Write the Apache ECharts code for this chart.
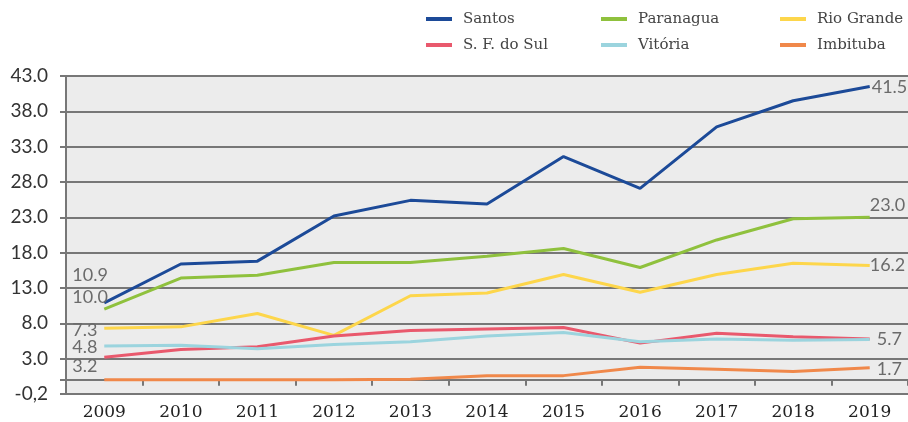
<!DOCTYPE html>
<html>
<head>
<meta charset="utf-8">
<script src="https://cdn.jsdelivr.net/npm/echarts@6/dist/echarts.min.js"></script>
<style>
    html, body { margin: 0; padding: 0; background: #fff; }
    #chart { width: 908px; height: 422px; }
</style>
</head>
<body>
<div id="chart"></div>
<script>
// anos (eixo x)
const years = ['2009', '2010', '2011', '2012', '2013', '2014', '2015', '2016', '2017', '2018', '2019'];
// valores por porto
const santos    = [10.9, 16.4, 16.8, 23.2, 25.4, 24.9, 31.6, 27.1, 35.8, 39.5, 41.5];
const paranagua = [10.0, 14.4, 14.8, 16.6, 16.6, 17.5, 18.6, 15.9, 19.8, 22.8, 23.0];
const rioGrande = [7.3, 7.5, 9.4, 6.3, 11.9, 12.3, 14.9, 12.4, 14.9, 16.5, 16.2];
const sfDoSul   = [3.2, 4.3, 4.7, 6.2, 7.0, 7.2, 7.4, 5.2, 6.6, 6.1, 5.8];
const vitoria   = [4.8, 4.9, 4.4, 5.0, 5.4, 6.2, 6.7, 5.4, 5.8, 5.6, 5.7];
const imbituba  = [0, 0, 0, 0, 0.1, 0.6, 0.6, 1.8, 1.5, 1.2, 1.7];
// rotulos do eixo y
const yTicks      = [-2, 3, 8, 13, 18, 23, 28, 33, 38, 43];
const yTickLabels = ['-0,2', '3.0', '8.0', '13.0', '18.0', '23.0', '28.0', '33.0', '38.0', '43.0'];

const gridColor = '#777';
const labelColor = '#6b6b6b';

// configuracao de cada serie: cor e deslocamento dos rotulos inicial / final (null = sem rotulo)
const seriesDefs = [
    { name: 'Santos',      data: santos,    color: '#1c4a98', start: [-32, -28], end: [2, 1] },
    { name: 'Paranagua',   data: paranagua, color: '#8fc13d', start: [-32, -12], end: [0, -12] },
    { name: 'Rio Grande',  data: rioGrande, color: '#fdd64b', start: [-32, 2],   end: [0, 0] },
    { name: 'S. F. do Sul', data: sfDoSul,  color: '#e9596d', start: [-32, 9],   end: null },
    { name: 'Vitória',     data: vitoria,   color: '#9bd4de', start: [-32, 1],   end: [7, 0] },
    { name: 'Imbituba',    data: imbituba,  color: '#f0884a', start: null,       end: [7, 1] }
];

function pointLabel(offset) {
    return {
        show: true,
        position: 'inside',
        align: 'left',
        verticalAlign: 'middle',
        offset: offset,
        color: labelColor,
        fontFamily: 'Lato',
        fontSize: 18,
        formatter: p => p.value.toFixed(1)
    };
}

const series = seriesDefs.map(def => {
    const last = def.data.length - 1;
    return {
        name: def.name,
        type: 'line',
        symbol: 'circle',
        symbolSize: 0,
        showSymbol: true,
        lineStyle: { width: 3, color: def.color },
        itemStyle: { color: def.color },
        emphasis: { disabled: true },
        data: def.data.map((v, i) => {
            if (i === 0 && def.start) return { value: v, label: pointLabel(def.start) };
            if (i === last && def.end) return { value: v, label: pointLabel(def.end) };
            return { value: v, label: { show: false } };
        })
    };
});
// linha de grade no zero
series[5].markLine = {
    silent: true,
    symbol: 'none',
    label: { show: false },
    lineStyle: { color: gridColor, width: 2, type: 'solid' },
    data: [{ yAxis: 0 }],
    z: 1
};
series[5].z = 3;

const legendBase = {
    orient: 'vertical',
    top: 11,
    padding: 0,
    itemGap: 10,
    itemWidth: 26,
    itemHeight: 4,
    icon: 'rect',
    selectedMode: false,
    textStyle: {
        fontFamily: 'DejaVu Serif',
        fontSize: 15,
        lineHeight: 16,
        color: '#444',
        padding: [0, 0, 0, 6]
    }
};

const option = {
    animation: false,
    color: seriesDefs.map(d => d.color),
    legend: [
        Object.assign({}, legendBase, { left: 426, data: ['Santos', 'S. F. do Sul'] }),
        Object.assign({}, legendBase, { left: 601, data: ['Paranagua', 'Vitória'] }),
        Object.assign({}, legendBase, { left: 780, data: ['Rio Grande', 'Imbituba'] })
    ],
    grid: {
        left: 66,
        right: 0,
        top: 76,
        bottom: 28,
        show: true,
        backgroundColor: '#ececec',
        borderWidth: 0
    },
    xAxis: {
        type: 'category',
        boundaryGap: true,
        data: years,
        axisLine: { lineStyle: { color: gridColor, width: 2 } },
        axisTick: { show: true, length: 6, lineStyle: { color: gridColor, width: 2 } },
        axisLabel: {
            interval: 0,
            margin: 10,
            color: '#222',
            fontFamily: 'DejaVu Serif',
            fontSize: 17
        },
        splitLine: { show: false }
    },
    yAxis: {
        type: 'value',
        min: yTicks[0],
        max: yTicks[yTicks.length - 1],
        interval: 5,
        axisLine: { show: true, lineStyle: { color: gridColor, width: 2 } },
        axisTick: {
            show: true,
            length: 6,
            customValues: [0].concat(yTicks),
            lineStyle: { color: gridColor, width: 2 }
        },
        axisLabel: {
            margin: 18,
            color: '#333',
            fontFamily: 'Lato',
            fontSize: 19,
            formatter: v => {
                const i = yTicks.indexOf(Math.round(v));
                return i >= 0 ? yTickLabels[i] : '';
            }
        },
        splitLine: { show: true, lineStyle: { color: gridColor, width: 2 } }
    },
    series: series
};

const chart = echarts.init(document.getElementById('chart'));
chart.setOption(option);
</script>
</body>
</html>
